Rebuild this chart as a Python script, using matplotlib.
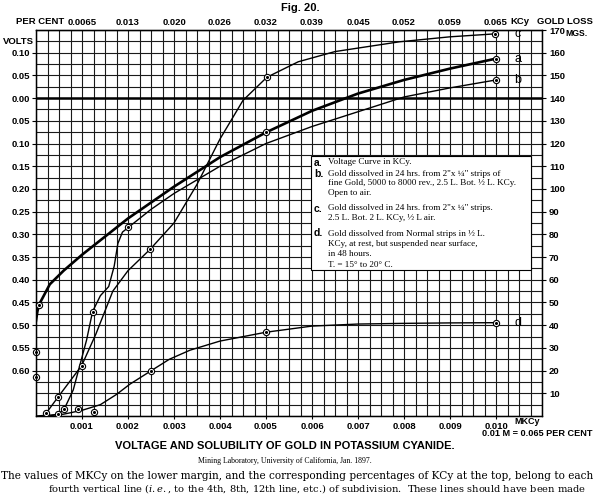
import matplotlib
matplotlib.use('Agg')
import matplotlib.pyplot as plt
from matplotlib.patches import Rectangle
import numpy as np

plt.rcParams['font.family'] = ['Liberation Sans', 'DejaVu Sans']
plt.rcParams['mathtext.fontset'] = 'custom'
plt.rcParams['mathtext.rm'] = 'DejaVu Serif'
plt.rcParams['mathtext.it'] = 'DejaVu Serif:italic'

## axis values
mkcy_ticks = [0.001, 0.002, 0.003, 0.004, 0.005, 0.006, 0.007, 0.008, 0.009, 0.010]
mkcy_labels = ['0.001', '0.002', '0.003', '0.004', '0.005', '0.006', '0.007', '0.008', '0.009', '0.010']
pct_labels = ['0.0065', '0.013', '0.020', '0.026', '0.032', '0.039', '0.045', '0.052', '0.059', '0.065']
volt_ticks = [0.10, 0.05, 0.0, -0.05, -0.10, -0.15, -0.20, -0.25, -0.30, -0.35, -0.40, -0.45, -0.50, -0.55, -0.60]
volt_labels = ['0.10', '0.05', '0.00', '0.05', '0.10', '0.15', '0.20', '0.25', '0.30',
               '0.35', '0.40', '0.45', '0.50', '0.55', '0.60']
mg_ticks = [10, 20, 30, 40, 50, 60, 70, 80, 90, 100, 110, 120, 130, 140, 150, 160, 170]

## a. voltage curve (volts, negative below zero line)
a_x = [0.0, 0.00003, 0.000065, 0.0003, 0.0006, 0.001, 0.0015, 0.002, 0.003, 0.004,
       0.005, 0.006, 0.007, 0.008, 0.009, 0.010]
a_v = [-0.49, -0.47, -0.455, -0.41, -0.38, -0.345, -0.305, -0.265, -0.195, -0.13,
       -0.0755, -0.028, 0.01, 0.04, 0.065, 0.087]
a_pts_x = [0.0, 0.0, 0.000065, 0.005, 0.010]
a_pts_v = [-0.615, -0.56, -0.455, -0.0755, 0.087]

## b, c, d gold loss (mgs)
b_x = [0.0003, 0.00048, 0.000615, 0.00081, 0.0011, 0.00123, 0.0014, 0.00158, 0.0017,
       0.00178, 0.00188, 0.00201, 0.0025, 0.003, 0.004, 0.005, 0.006, 0.007, 0.008, 0.009, 0.010]
b_mg = [0, 0.8, 3.1, 11.5, 33.5, 46, 53, 57, 66, 76, 81, 83.1, 91, 98, 110, 120,
        127.5, 134, 140.5, 144.5, 148]
b_pts_x = [0.00048, 0.000615, 0.00123, 0.00201, 0.010]
b_pts_mg = [0.8, 3.1, 46, 83.1, 148]

c_x = [0.00022, 0.000485, 0.000993, 0.0013, 0.00167, 0.002, 0.00248, 0.003, 0.0035,
       0.004, 0.0045, 0.00502, 0.0057, 0.0065, 0.0079, 0.009, 0.00998]
c_mg = [1.2, 8.5, 22.2, 36, 55, 64, 73.4, 85, 102, 122, 139, 149.2, 156, 160.5,
        164.8, 167, 168.3]
c_pts_x = [0.00022, 0.000485, 0.000993, 0.00248, 0.00502, 0.00998]
c_pts_mg = [1.2, 8.5, 22.2, 73.4, 149.2, 168.3]

d_x = [0.0, 0.0006, 0.001, 0.0014, 0.00175, 0.00204, 0.0025, 0.0029, 0.00335, 0.004,
       0.005, 0.006, 0.007, 0.008, 0.009, 0.010]
d_mg = [0, 0.8, 2.5, 5, 9.5, 14, 19.9, 25, 29, 33, 36.9, 39.6, 40.5, 40.8, 41, 41.1]
d_pts_x = [0.00092, 0.00125, 0.0025, 0.005, 0.010]
d_pts_mg = [3.1, 1.9, 19.9, 36.9, 41.1]

legend_lines = [
    ('a.', 'Voltage Curve in KCy.', 162.5),
    ('b.', 'Gold dissolved in 24 hrs. from 2"x \u00bc" strips of', 174),
    ('', 'fine Gold, 5000 to 8000 rev., 2.5 L. Bot. \u00bd L. KCy.', 183.5),
    ('', 'Open to air.', 193),
    ('c.', 'Gold dissolved in 24 hrs. from 2"x \u00bc" strips.', 208.5),
    ('', '2.5 L. Bot. 2 L. KCy, \u00bd L air.', 218.5),
    ('d.', 'Gold dissolved from Normal strips in \u00bd L.', 233.5),
    ('', 'KCy, at rest, but suspended near surface,', 244),
    ('', 'in 48 hours.', 253.5),
    ('', 'T. = 15\u00b0 to 20\u00b0 C.', 265),
]

W, H = 600, 496
fig = plt.figure(figsize=(W / 100, H / 100), dpi=100)

def fx(px):
    return px / W

def fy(py):
    return 1 - py / H

ax = fig.add_axes([fx(36), fy(416), fx(542) - fx(36), fy(30) - fy(416)])
ax.set_xlim(0, 0.011)
ax.set_ylim(-0.70, 0.15)

# graph paper
ax.set_xticks(np.arange(0, 0.01101, 0.00025), minor=True)
ax.set_yticks(np.arange(-0.70, 0.1501, 0.025), minor=True)
ax.grid(which='both', color='#1a1a1a', lw=0.8)
ax.tick_params(which='minor', length=0)
ax.axhline(0, color='black', lw=1.8, zorder=2)
for s in ax.spines.values():
    s.set_linewidth(1.0)

ax.set_xticks(mkcy_ticks, mkcy_labels)
ax.set_yticks(volt_ticks, volt_labels)
ax.tick_params(axis='x', which='major', length=2, pad=2, labelsize=6.8)
ax.tick_params(axis='y', which='major', length=3, pad=1, labelsize=6.8)
for t in ax.get_xticklabels() + ax.get_yticklabels():
    t.set_fontweight('bold')

top = ax.secondary_xaxis('top')
top.set_xticks(mkcy_ticks, pct_labels)
top.tick_params(length=0, pad=2, labelsize=6.8)
for t in top.get_xticklabels():
    t.set_fontweight('bold')

ax2 = ax.twinx()
ax2.set_ylim(0, 170)
ax2.set_yticks(mg_ticks)
ax2.tick_params(axis='y', length=3, pad=2, labelsize=6.8)
for t in ax2.get_yticklabels():
    t.set_fontweight('bold')

mk = dict(ls='none', marker='o', ms=4.5, mfc='white', mec='black', mew=0.8, zorder=6)
dot = dict(ls='none', marker='o', ms=1.2, color='black', zorder=7)

# curves
ax.plot(a_x, a_v, color='black', lw=1.9, zorder=4)
ax.plot(a_pts_x, a_pts_v, **mk, clip_on=False)
ax.plot(a_pts_x, a_pts_v, **dot, clip_on=False)

for xs, ys, px, py in [(b_x, b_mg, b_pts_x, b_pts_mg),
                       (c_x, c_mg, c_pts_x, c_pts_mg),
                       (d_x, d_mg, d_pts_x, d_pts_mg)]:
    ax2.plot(xs, ys, color='black', lw=1.0, zorder=4)
    ax2.plot(px, py, **mk)
    ax2.plot(px, py, **dot)

ax.text(0.0104, a_v[-1], 'a', fontsize=9, va='center', ha='left')
ax2.text(0.0104, b_mg[-1], 'b', fontsize=9, va='center', ha='left')
ax2.text(0.0104, c_mg[-1], 'c', fontsize=9, va='center', ha='left')
ax2.text(0.0104, d_mg[-1], 'd', fontsize=9, va='center', ha='left')

# legend box
fig.add_artist(Rectangle((fx(311), fy(270)), fx(531) - fx(311), fy(156) - fy(270),
                         transform=fig.transFigure, fc='white', ec='black', lw=0.8, zorder=5))
for letter, txt, y in legend_lines:
    if letter:
        fig.text(fx(314), fy(y), letter, fontsize=7.5, fontweight='bold', va='center', zorder=6)
    fig.text(fx(328), fy(y), txt, fontsize=6.6, family='Liberation Serif', va='center', zorder=6)

# margin labels
fig.text(0.5, fy(8), 'Fig. 20.', fontsize=8, fontweight='bold', ha='center', va='center')
fig.text(fx(40), fy(22), 'PER CENT', fontsize=6.8, fontweight='bold', ha='center', va='center')
fig.text(fx(34), fy(42), 'VOLTS', fontsize=6.8, fontweight='bold', ha='right', va='center')
fig.text(fx(520), fy(22), 'KCy', fontsize=6.8, fontweight='bold', ha='center', va='center')
fig.text(fx(565), fy(22), 'GOLD LOSS', fontsize=6.8, fontweight='bold', ha='center', va='center')
fig.text(fx(577), fy(34), 'MGS.', fontsize=6.2, fontweight='bold', ha='center', va='center')
fig.text(fx(527), fy(422), 'MKCy', fontsize=6.5, fontweight='bold', ha='center', va='center')
fig.text(fx(593), fy(434), '0.01 M = 0.065 PER CENT', fontsize=6.6, fontweight='bold',
         ha='right', va='center')

fig.text(fx(285), fy(446), 'VOLTAGE AND SOLUBILITY OF GOLD IN POTASSIUM CYANIDE.',
         fontsize=8, fontweight='bold', ha='center', va='center')
fig.text(fx(285), fy(461), 'Mining Laboratory, University of California, Jan. 1897.',
         fontsize=5.6, family='Liberation Serif', ha='center', va='center')
fig.text(fx(1), fy(476), 'The values of MKCy on the lower margin, and the corresponding '
         'percentages of KCy at the top, belong to each',
         fontsize=7.6, family='DejaVu Serif', ha='left', va='center')
fig.text(fx(48), fy(489), r'fourth vertical line ($\mathit{i.e.}$, to the 4th, 8th, 12th line, '
         r'etc.) of subdivision.  These lines should have been made',
         fontsize=7.15, family='DejaVu Serif', ha='left', va='center')

fig.savefig('out.png', dpi=100)
